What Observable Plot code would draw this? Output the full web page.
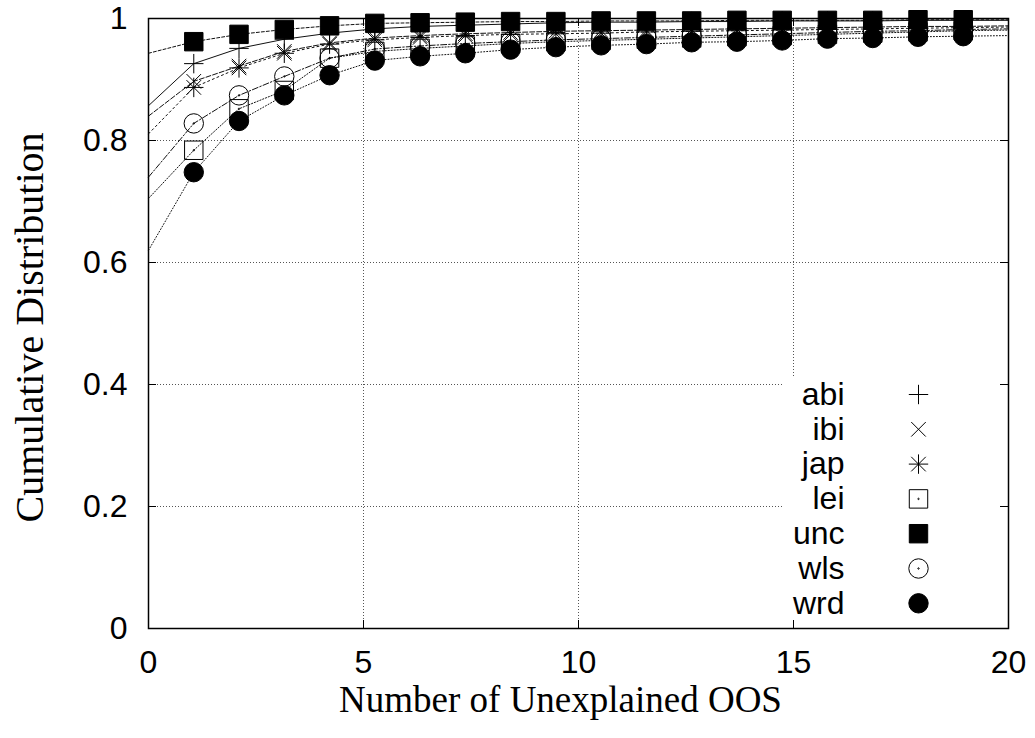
<!DOCTYPE html>
<html><head><meta charset="utf-8">
<script src="https://cdn.jsdelivr.net/npm/d3@7"></script>
<script src="https://cdn.jsdelivr.net/npm/@observablehq/plot@0.6"></script>
<style>body{margin:0;background:#fff}</style>
</head><body><div id="chart"></div>
<script>
// x positions of the samples (0..20)
const xs = [0, 1.053, 2.105, 3.158, 4.211, 5.263, 6.316, 7.368, 8.421, 9.474, 10.526, 11.579, 12.632, 13.684, 14.737, 15.789, 16.842, 17.895, 18.947, 20];
const abi = [0.857, 0.926, 0.951, 0.966, 0.976, 0.983, 0.987, 0.989, 0.991, 0.993, 0.994, 0.994, 0.995, 0.995, 0.996, 0.996, 0.996, 0.997, 0.997, 0.997];
const ibi = [0.840, 0.897, 0.922, 0.946, 0.960, 0.968, 0.972, 0.975, 0.977, 0.979, 0.980, 0.981, 0.982, 0.983, 0.984, 0.985, 0.986, 0.987, 0.987, 0.988];
const jap = [0.811, 0.887, 0.919, 0.943, 0.958, 0.965, 0.969, 0.972, 0.974, 0.975, 0.976, 0.978, 0.979, 0.980, 0.981, 0.982, 0.983, 0.984, 0.985, 0.986];
const lei = [0.705, 0.784, 0.852, 0.882, 0.935, 0.946, 0.951, 0.955, 0.959, 0.962, 0.964, 0.966, 0.968, 0.970, 0.972, 0.974, 0.976, 0.978, 0.980, 0.981];
const unc = [0.943, 0.962, 0.974, 0.982, 0.988, 0.992, 0.993, 0.994, 0.995, 0.995, 0.996, 0.996, 0.996, 0.997, 0.997, 0.997, 0.997, 0.998, 0.998, 0.998];
const wls = [0.740, 0.828, 0.874, 0.905, 0.935, 0.950, 0.955, 0.959, 0.962, 0.965, 0.967, 0.969, 0.971, 0.973, 0.975, 0.977, 0.979, 0.980, 0.982, 0.983];
const wrd = [0.620, 0.748, 0.832, 0.874, 0.907, 0.931, 0.938, 0.943, 0.949, 0.953, 0.956, 0.958, 0.961, 0.962, 0.964, 0.967, 0.968, 0.970, 0.971, 0.972];

const seriesNames = ["abi", "ibi", "jap", "lei", "unc", "wls", "wrd"];
const seriesValues = [abi, ibi, jap, lei, unc, wls, wrd];
const xTicks = [0, 5, 10, 15, 20];
const yTicks = [0, 0.2, 0.4, 0.6, 0.8, 1];
const xGrid = [5, 10, 15];
const yGrid = [0.2, 0.4, 0.6, 0.8];
const xTitle = "Number of Unexplained OOS";
const yTitle = "Cumulative Distribution";

// gnuplot-like symbols
const dotC = (c) => { c.moveTo(0.7, 0); c.arc(0, 0, 0.7, 0, 2 * Math.PI); };
const symPlus = {draw(c, size) { const s = Math.sqrt(size / Math.PI); c.moveTo(-s, 0); c.lineTo(s, 0); c.moveTo(0, -s); c.lineTo(0, s); }};
const symTimes = {draw(c, size) { const s = Math.sqrt(size / Math.PI) * 0.75; c.moveTo(-s, -s); c.lineTo(s, s); c.moveTo(-s, s); c.lineTo(s, -s); }};
const symStar = {draw(c, size) { const s = Math.sqrt(size / Math.PI); const t = s * 0.75; c.moveTo(-s, 0); c.lineTo(s, 0); c.moveTo(0, -s); c.lineTo(0, s); c.moveTo(-t, -t); c.lineTo(t, t); c.moveTo(-t, t); c.lineTo(t, -t); }};
const symBox = {draw(c, size) { const s = Math.sqrt(size / Math.PI) * 0.95; c.rect(-s, -s, 2 * s, 2 * s); dotC(c); }};
const symBoxF = {draw(c, size) { const s = Math.sqrt(size / Math.PI) * 0.95; c.rect(-s, -s, 2 * s, 2 * s); }};
const symCirc = {draw(c, size) { const s = Math.sqrt(size / Math.PI); c.moveTo(s, 0); c.arc(0, 0, s, 0, 2 * Math.PI); dotC(c); }};
const symCircF = {draw(c, size) { const s = Math.sqrt(size / Math.PI); c.moveTo(s, 0); c.arc(0, 0, s, 0, 2 * Math.PI); }};

const styles = {
  abi: {symbol: symPlus, fill: "none", dash: null},
  ibi: {symbol: symTimes, fill: "none", dash: "5,2"},
  jap: {symbol: symStar, fill: "none", dash: "2,3"},
  lei: {symbol: symBox, fill: "none", dash: "1.2,1.8"},
  unc: {symbol: symBoxF, fill: "black", dash: "3,2"},
  wls: {symbol: symCirc, fill: "none", dash: "6,2,1.5,2"},
  wrd: {symbol: symCircF, fill: "black", dash: "1,2"}
};

const R = 9.7;
const marks = [];
// grid
marks.push(Plot.ruleX(xGrid, {x: d => d, stroke: "#555", strokeWidth: 1, strokeDasharray: "1,2"}));
marks.push(Plot.ruleY(yGrid, {y: d => d, stroke: "#555", strokeWidth: 1, strokeDasharray: "1,2"}));
// opaque key background
marks.push((index, scales, values, dims) => {
  const r = d3.create("svg:rect");
  const right = dims.width - dims.marginRight;
  const bottom = dims.height - dims.marginBottom;
  r.attr("x", right - 225).attr("y", bottom - 251).attr("width", 225).attr("height", 251).attr("fill", "white");
  return r.node();
});
// series
seriesNames.forEach((name, i) => {
  const vals = seriesValues[i];
  const data = xs.map((x, k) => ({x, y: vals[k], k}));
  const st = styles[name];
  marks.push(Plot.line(data, {x: "x", y: "y", stroke: "#111", strokeWidth: 1, strokeDasharray: st.dash}));
  marks.push(Plot.dot(data.filter(d => d.k > 0 && d.k < xs.length - 1), {x: "x", y: "y", r: R, symbol: st.symbol, fill: st.fill, stroke: "black", strokeWidth: 1}));
});
// legend
seriesNames.forEach((name, i) => {
  const st = styles[name];
  const dy = -234 + i * 34.8;
  marks.push(Plot.text([name], {text: d => d, frameAnchor: "bottom-right", dx: -164, dy, textAnchor: "end", lineAnchor: "middle", fontSize: 32, fontFamily: "Liberation Sans", fill: "black"}));
  marks.push(Plot.dot([name], {frameAnchor: "bottom-right", dx: -90, dy, r: R, symbol: st.symbol, fill: st.fill, stroke: "black", strokeWidth: 1}));
});
// inward ticks on all sides
marks.push(Plot.tickX(xTicks, {x: d => d, insetTop: 602, stroke: "black", strokeWidth: 1}));
marks.push(Plot.tickX(xTicks, {x: d => d, insetBottom: 602, stroke: "black", strokeWidth: 1}));
marks.push(Plot.tickY(yTicks, {y: d => d, insetRight: 852, stroke: "black", strokeWidth: 1}));
marks.push(Plot.tickY(yTicks, {y: d => d, insetLeft: 852, stroke: "black", strokeWidth: 1}));
marks.push(Plot.frame({stroke: "black", strokeWidth: 1.5}));
// tick labels
marks.push(Plot.text(xTicks, {x: d => d, text: d => String(d), frameAnchor: "bottom", dy: 34, lineAnchor: "middle", fontSize: 32, fontFamily: "Liberation Sans", fill: "black"}));
marks.push(Plot.text(yTicks, {y: d => d, text: d => String(d), frameAnchor: "left", dx: -21, textAnchor: "end", lineAnchor: "middle", fontSize: 32, fontFamily: "Liberation Sans", fill: "black"}));
// titles
marks.push(Plot.text([xTitle], {text: d => d, frameAnchor: "bottom", dx: -18, dy: 72, textAnchor: "middle", lineAnchor: "middle", fontSize: 37, fontFamily: "Liberation Serif", fill: "black"}));
marks.push(Plot.text([yTitle], {text: d => d, frameAnchor: "left", dx: -118, dy: 4, rotate: -90, textAnchor: "middle", lineAnchor: "middle", fontSize: 40, fontFamily: "Liberation Serif", fill: "black"}));

const chart = Plot.plot({
  width: 1035,
  height: 738,
  marginLeft: 148,
  marginRight: 27,
  marginTop: 18,
  marginBottom: 110,
  x: {domain: [0, 20], axis: null},
  y: {domain: [0, 1], axis: null},
  style: {background: "white", overflow: "visible"},
  marks
});
document.getElementById("chart").appendChild(chart);
</script>
</body></html>
